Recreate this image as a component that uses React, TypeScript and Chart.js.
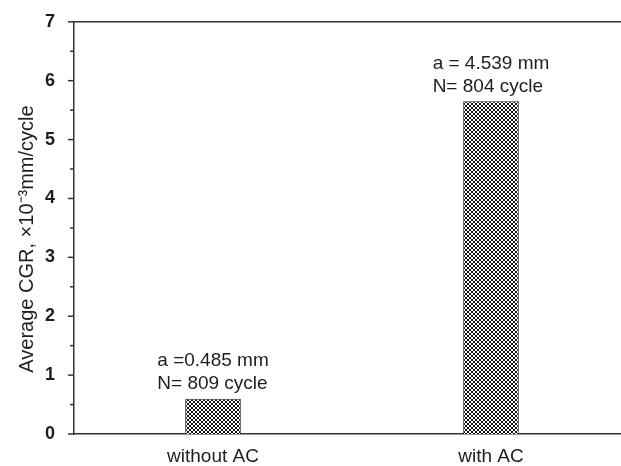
import React, { useEffect, useRef } from 'react';
import { Chart, registerables } from 'chart.js';

Chart.register(...registerables);

const categories = ['without AC', 'with AC'];
const cgrValues = [0.6, 5.65];
const annotationLine1 = ['a =0.485 mm', 'a = 4.539 mm'];
const annotationLine2 = ['N= 809 cycle', 'N= 804 cycle'];
const yAxisTitle = 'Average CGR, \u00d710\u207b\u00b3mm/cycle\u00a0\u00a0\u00a0\u00a0';
const yMin = 0;
const yMax = 7;
const yStep = 0.5;

const FONT = '"Liberation Sans", Arial, Helvetica, sans-serif';
const AXIS_COLOR = '#333333';
const TEXT_COLOR = '#1e1e1e';

function makeHatch(): CanvasPattern | string {
  const c = document.createElement('canvas');
  c.width = 4;
  c.height = 4;
  const g = c.getContext('2d');
  if (!g) return '#666';
  g.fillStyle = '#ffffff';
  g.fillRect(0, 0, 4, 4);
  g.strokeStyle = '#111111';
  g.lineWidth = 1;
  g.beginPath();
  g.moveTo(0, 0);
  g.lineTo(4, 4);
  g.moveTo(0, 4);
  g.lineTo(4, 0);
  g.stroke();
  const p = g.createPattern(c, 'repeat');
  return p || '#666';
}

const framePlugin = {
  id: 'framePlugin',
  afterDraw(chart: any) {
    const ctx = chart.ctx;
    const area = chart.chartArea;
    const y = chart.scales.y;
    ctx.save();
    ctx.strokeStyle = AXIS_COLOR;
    ctx.lineWidth = 1.5;
    ctx.beginPath();
    ctx.moveTo(area.left, area.top);
    ctx.lineTo(area.right, area.top);
    ctx.stroke();
    y.ticks.forEach((t: any) => {
      const py = y.getPixelForValue(t.value);
      const len = Number.isInteger(t.value) ? 6 : 4;
      ctx.beginPath();
      ctx.moveTo(area.left - len, py);
      ctx.lineTo(area.left, py);
      ctx.stroke();
    });
    ctx.restore();
  },
};

const annotationPlugin = {
  id: 'annotationPlugin',
  afterDatasetsDraw(chart: any) {
    const ctx = chart.ctx;
    const meta = chart.getDatasetMeta(0);
    ctx.save();
    ctx.font = `19px ${FONT}`;
    ctx.fillStyle = TEXT_COLOR;
    ctx.textAlign = 'left';
    ctx.textBaseline = 'middle';
    meta.data.forEach((bar: any, i: number) => {
      const l1 = annotationLine1[i];
      const l2 = annotationLine2[i];
      const w = Math.max(ctx.measureText(l1).width, ctx.measureText(l2).width);
      const x0 = bar.x - w / 2;
      ctx.fillText(l1, x0, bar.y - 38);
      ctx.fillText(l2, x0, bar.y - 15);
    });
    ctx.restore();
  },
};

export default function App() {
  const canvasRef = useRef<HTMLCanvasElement | null>(null);

  useEffect(() => {
    if (!canvasRef.current) return;
    const hatch = makeHatch();
    const chart = new Chart(canvasRef.current, {
      type: 'bar',
      data: {
        labels: categories,
        datasets: [
          {
            data: cgrValues,
            backgroundColor: hatch as any,
            borderColor: '#222222',
            borderWidth: 1,
            barPercentage: 0.2,
            categoryPercentage: 1,
          },
        ],
      },
      options: {
        responsive: false,
        animation: false,
        layout: { padding: { top: 20, right: 2, left: 0, bottom: 0 } },
        plugins: {
          legend: { display: false },
          tooltip: { enabled: false },
        },
        scales: {
          x: {
            type: 'category',
            grid: { display: false },
            border: { display: true, color: AXIS_COLOR, width: 1.5 },
            ticks: {
              color: TEXT_COLOR,
              font: { family: FONT, size: 19 },
              padding: 3,
              maxRotation: 0,
            },
            afterFit(scale: any) {
              scale.height = 32;
            },
          },
          y: {
            type: 'linear',
            min: yMin,
            max: yMax,
            grid: { display: false },
            border: { display: true, color: AXIS_COLOR, width: 1.5 },
            ticks: {
              stepSize: yStep,
              color: TEXT_COLOR,
              font: { family: FONT, size: 18, weight: 'bold' },
              padding: 11,
              callback: (v: any) => (Number.isInteger(v) ? String(v) : ''),
            },
            title: {
              display: true,
              text: yAxisTitle,
              color: TEXT_COLOR,
              font: { family: FONT, size: 20 },
              padding: { top: 15, bottom: 0 },
            },
            afterFit(scale: any) {
              scale.width = 74;
            },
          },
        },
      },
      plugins: [framePlugin, annotationPlugin],
    });
    return () => chart.destroy();
  }, []);

  return (
    <div
      style={{
        position: 'fixed',
        left: 0,
        top: 0,
        width: 621,
        height: 466,
        overflow: 'hidden',
        background: '#ffffff',
      }}
    >
      <canvas ref={canvasRef} width={632} height={466} style={{ display: 'block' }} />
    </div>
  );
}
